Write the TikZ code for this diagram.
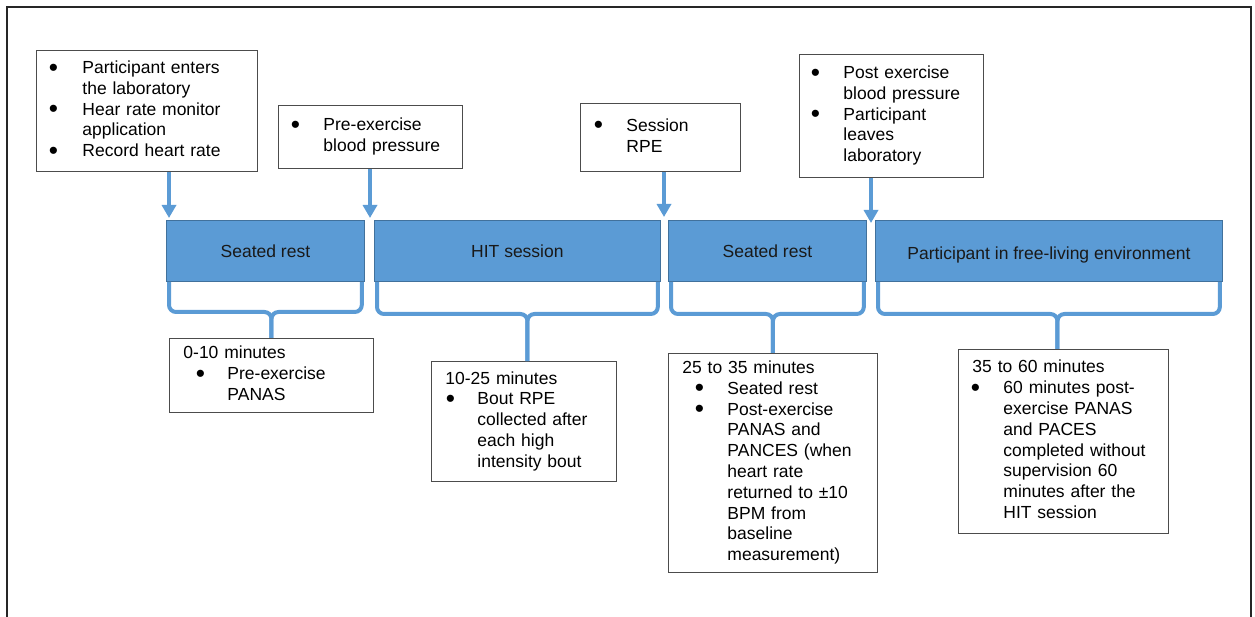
\documentclass[tikz,border=0pt]{standalone}
\usepackage{fontspec}
\setmainfont{Liberation Sans}
\usetikzlibrary{arrows.meta}
\definecolor{barblue}{HTML}{5B9BD5}
\definecolor{barline}{HTML}{41719C}
\newcommand\fsz{\fontsize{17.5pt}{20.8pt}\selectfont}
\newcommand\bul{\makebox[6pt]{\smash{\raisebox{-2.5pt}{\scalebox{1.5}{\textbullet}}}}}
\begin{document}
\begin{tikzpicture}[x=1pt,y=-1pt,
  tbox/.style={draw=black!70, line width=0.9pt, fill=white, anchor=north west, align=left,
    inner ysep=0pt, font=\fsz, text=black},
  bar/.style={draw=barline, line width=0.8pt, fill=barblue, anchor=north west, inner sep=0pt,
    minimum height=61pt, font=\fsz, text=black!90, text height=17pt, text depth=3.5pt},
  conn/.style={draw=barblue, line width=4pt, -{Triangle[width=14pt,length=13pt]}},
  brace/.style={draw=barblue, line width=4pt, rounded corners=7pt},
  frame/.style={draw=black!85, line width=2pt}]
\useasboundingbox (0,0) rectangle (1255,617);
\clip (0,0) rectangle (1255,617);
\draw[frame] (7,7) rectangle (1251,640);

% top boxes
\node[tbox, inner xsep=14pt, text width=193pt, minimum height=121pt] (A) at (36,50)
{\begin{tabular}{@{}p{32pt}@{}l@{}}
\bul & Participant enters\\
 & the laboratory\\
\bul & Hear rate monitor\\
 & application\\
\bul & Record heart rate
\end{tabular}};
\node[tbox, inner xsep=14pt, text width=156pt, minimum height=63pt] (B) at (278,105)
{\begin{tabular}{@{}p{31pt}@{}l@{}}
\bul & Pre-exercise\\
 & blood pressure
\end{tabular}};
\node[tbox, inner xsep=15pt, text width=130pt, minimum height=68pt] (C) at (580,103)
{\begin{tabular}{@{}p{31pt}@{}l@{}}
\bul & Session\\
 & RPE
\end{tabular}};
\node[tbox, inner xsep=13pt, text width=158pt, minimum height=123pt] (D) at (799,54)
{\begin{tabular}{@{}p{31pt}@{}l@{}}
\bul & Post exercise\\
 & blood pressure\\
\bul & Participant\\
 & leaves\\
 & laboratory
\end{tabular}};

% bars
\node[bar, minimum width=198pt] (b1) at (166,220) {Seated rest};
\node[bar, minimum width=286pt] (b2) at (374,220) {HIT session};
\node[bar, minimum width=198pt] (b3) at (668,220) {Seated rest};
\node[bar, minimum width=347pt, text height=21pt] (b4) at (875,220) {Participant in free-living environment};

% bottom boxes
\node[tbox, inner xsep=14pt, text width=176pt, minimum height=74pt] (E) at (169,338)
{\begin{tabular}{@{}p{44pt}@{}l@{}}
\multicolumn{2}{@{}l@{}}{0-10 minutes}\\
\hspace*{14pt}\bul & Pre-exercise\\
 & PANAS
\end{tabular}};
\node[tbox, inner xsep=14pt, text width=157pt, minimum height=120pt] (F) at (431,361)
{\begin{tabular}{@{}p{32pt}@{}l@{}}
\multicolumn{2}{@{}l@{}}{10-25 minutes}\\
\hspace*{2pt}\bul & Bout RPE\\
 & collected after\\
 & each high\\
 & intensity bout
\end{tabular}};
\node[tbox, inner xsep=14pt, text width=181pt, minimum height=219pt] (G) at (668,353)
{\begin{tabular}{@{}p{45pt}@{}l@{}}
\multicolumn{2}{@{}l@{}}{25 to 35 minutes}\\
\hspace*{14pt}\bul & Seated rest\\
\hspace*{14pt}\bul & Post-exercise\\
 & PANAS and\\
 & PANCES (when\\
 & heart rate\\
 & returned to ±10\\
 & BPM from\\
 & baseline\\
 & measurement)
\end{tabular}};
\node[tbox, inner xsep=14pt, text width=182pt, minimum height=184pt] (H) at (958,349)
{\begin{tabular}{@{}p{31pt}@{}l@{}}
\multicolumn{2}{@{}l@{}}{35 to 60 minutes}\\
\bul & 60 minutes post-\\
 & exercise PANAS\\
 & and PACES\\
 & completed without\\
 & supervision 60\\
 & minutes after the\\
 & HIT session
\end{tabular}};

% arrows from top boxes
\coordinate (t1) at (169,218);
\coordinate (t2) at (370,218);
\coordinate (t3) at (664,217);
\coordinate (t4) at (871,223);
\draw[conn] (A.south -| t1) -- (t1);
\draw[conn] (B.south -| t2) -- (t2);
\draw[conn] (C.south -| t3) -- (t3);
\draw[conn] (D.south -| t4) -- (t4);

% braces
\draw[brace] ([xshift=3pt]b1.south west) |- ([yshift=26pt]E.north) -- (E.north);
\draw[brace] ([xshift=-3pt]b1.south east) |- ([yshift=26pt]E.north) -- (E.north);
\draw[brace] ([xshift=3pt]b2.south west) |- ([xshift=3.5pt,yshift=47pt]F.north) -- ([xshift=3.5pt]F.north);
\draw[brace] ([xshift=-3pt]b2.south east) |- ([xshift=3.5pt,yshift=47pt]F.north) -- ([xshift=3.5pt]F.north);
\draw[brace] ([xshift=3pt]b3.south west) |- ([yshift=39pt]G.north) -- (G.north);
\draw[brace] ([xshift=-3pt]b3.south east) |- ([yshift=39pt]G.north) -- (G.north);
\draw[brace] ([xshift=3pt]b4.south west) |- ([xshift=-6pt,yshift=35pt]H.north) -- ([xshift=-6pt]H.north);
\draw[brace] ([xshift=-3pt]b4.south east) |- ([xshift=-6pt,yshift=35pt]H.north) -- ([xshift=-6pt]H.north);
\end{tikzpicture}
\end{document}
